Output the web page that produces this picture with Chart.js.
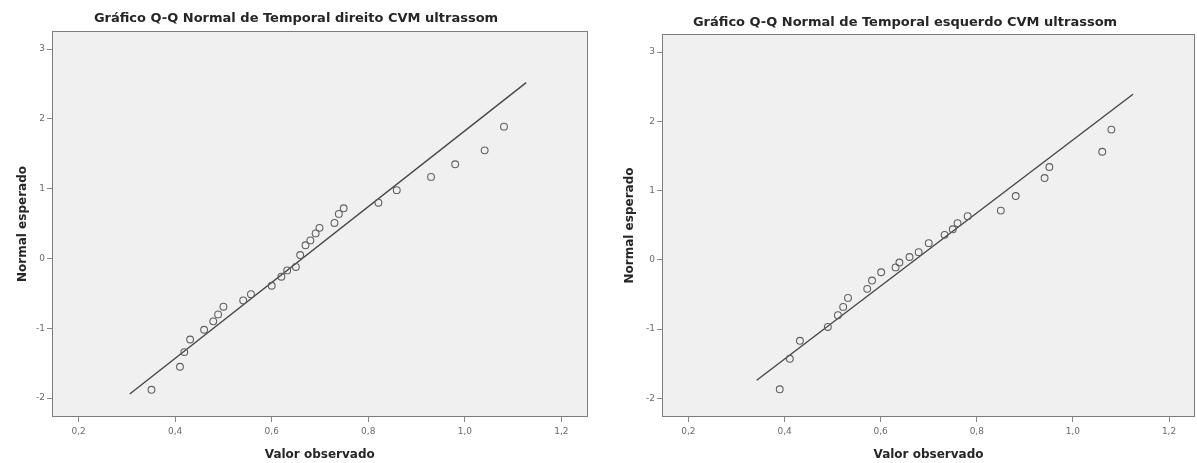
<!DOCTYPE html>
<html><head><meta charset="utf-8">
<script src="https://cdn.jsdelivr.net/npm/chart.js@4.4.0/dist/chart.umd.min.js"></script>
<style>
html,body{margin:0;padding:0;background:#fff;overflow:hidden;width:1197px;height:463px}
#c1{position:absolute;left:0;top:0}
#c2{position:absolute;left:600px;top:0}
</style></head><body>
<canvas id="c1" width="600" height="463"></canvas>
<canvas id="c2" width="597" height="463"></canvas>
<script>
// ---- text ----
const leftTitle = "Gráfico Q-Q Normal de Temporal direito CVM ultrassom";
const rightTitle = "Gráfico Q-Q Normal de Temporal esquerdo CVM ultrassom";
const xAxisTitle = "Valor observado";
const yAxisTitle = "Normal esperado";

// ---- ticks ----
const xTickValues = [0.2, 0.4, 0.6, 0.8, 1.0, 1.2];
const xTickLabels = ["0,2", "0,4", "0,6", "0,8", "1,0", "1,2"];
const yTickValues = [-2, -1, 0, 1, 2, 3];
const yTickLabels = ["-2", "-1", "0", "1", "2", "3"];

// ---- left chart: Temporal direito ----
const leftObserved = [0.351, 0.410, 0.419, 0.431, 0.460, 0.479, 0.489, 0.500, 0.541, 0.557,
  0.600, 0.620, 0.632, 0.650, 0.659, 0.670, 0.680, 0.691, 0.699, 0.730,
  0.739, 0.749, 0.821, 0.859, 0.930, 0.980, 1.041, 1.081];
const leftExpected = [-1.88, -1.55, -1.34, -1.16, -1.02, -0.90, -0.80, -0.69, -0.60, -0.51,
  -0.39, -0.26, -0.17, -0.12, 0.05, 0.19, 0.26, 0.36, 0.44, 0.51,
  0.64, 0.72, 0.80, 0.98, 1.17, 1.35, 1.55, 1.89];
const leftLineX = [0.306, 1.127];
const leftLineY = [-1.94, 2.52];

// ---- right chart: Temporal esquerdo ----
const rightObserved = [0.390, 0.411, 0.432, 0.490, 0.511, 0.522, 0.532, 0.572, 0.582, 0.601,
  0.631, 0.639, 0.660, 0.679, 0.700, 0.733, 0.750, 0.760, 0.781, 0.850,
  0.881, 0.941, 0.951, 1.061, 1.080];
const rightExpected = [-1.87, -1.43, -1.17, -0.97, -0.80, -0.68, -0.55, -0.42, -0.30, -0.18,
  -0.11, -0.04, 0.04, 0.11, 0.24, 0.36, 0.44, 0.53, 0.63, 0.71,
  0.92, 1.18, 1.34, 1.56, 1.88];
const rightLineX = [0.342, 1.125];
const rightLineY = [-1.74, 2.39];

const FONT = '"DejaVu Sans", "Liberation Sans", Arial, sans-serif';

const framePlugin = {
  id: 'frame',
  beforeDraw(chart, args, opts) {
    const {ctx, chartArea: a} = chart;
    ctx.save();
    ctx.fillStyle = '#f0f0f0';
    ctx.fillRect(a.left, a.top, a.right - a.left, a.bottom - a.top);
    ctx.restore();
  },
  beforeDatasetsDraw(chart, args, opts) {
    const {ctx, chartArea: a} = chart;
    ctx.save();
    ctx.strokeStyle = '#7c7c7c';
    ctx.lineWidth = 1;
    ctx.strokeRect(Math.round(a.left) + 0.5, Math.round(a.top) + 0.5,
      Math.round(a.right - a.left) - 1, Math.round(a.bottom - a.top) - 1);
    ctx.restore();
  },
  afterDraw(chart, args, opts) {
    const {ctx} = chart;
    ctx.save();
    ctx.fillStyle = '#262626';
    ctx.font = 'bold 13px ' + FONT;
    ctx.textAlign = 'center';
    ctx.textBaseline = 'middle';
    ctx.fillText(opts.text, opts.x, opts.y);
    ctx.restore();
  }
};

function makeChart(id, obs, exp, lx, ly, cfg) {
  const pts = obs.map((v, i) => ({x: v, y: exp[i]}));
  const line = lx.map((v, i) => ({x: v, y: ly[i]}));
  return new Chart(document.getElementById(id), {
    type: 'scatter',
    data: {
      datasets: [
        {
          data: line, showLine: true, borderColor: '#474747', borderWidth: 1.4,
          pointRadius: 0, pointHoverRadius: 0, order: 2
        },
        {
          data: pts, pointStyle: 'circle', pointRadius: 3.4, borderColor: '#606060',
          borderWidth: 1.1, backgroundColor: 'rgba(0,0,0,0)', order: 1
        }
      ]
    },
    options: {
      responsive: false, animation: false, events: [],
      layout: {autoPadding: false, padding: {top: cfg.top, right: cfg.right, left: 0, bottom: 0}},
      plugins: {
        legend: {display: false}, tooltip: {enabled: false},
        frame: {text: cfg.title, x: cfg.titleX, y: cfg.titleY}
      },
      scales: {
        x: {
          type: 'linear', min: 0.145, max: 1.254,
          afterFit: s => { s.height = 463 - cfg.bottom; s.paddingLeft = 0; s.paddingRight = 0; },
          afterBuildTicks: s => { s.ticks = xTickValues.map(v => ({value: v})); },
          ticks: {
            callback: (v) => { const i = xTickValues.findIndex(t => Math.abs(t - v) < 1e-6); return i >= 0 ? xTickLabels[i] : ''; },
            color: '#6a6a6a', font: {family: FONT, size: 9}, padding: 4, maxRotation: 0, autoSkip: false
          },
          grid: {drawOnChartArea: false, drawTicks: true, tickLength: 5, color: '#8a8a8a'},
          border: {display: false},
          title: {display: true, text: xAxisTitle, color: '#262626', font: {family: FONT, size: 12, weight: 'bold'}, padding: {top: 0, bottom: 1}}
        },
        y: {
          type: 'linear', min: -2.27, max: 3.26,
          afterFit: s => { s.width = cfg.yWidth; s.paddingTop = 0; s.paddingBottom = 0; },
          afterBuildTicks: s => { s.ticks = yTickValues.map(v => ({value: v})); },
          ticks: {
            callback: (v) => { const i = yTickValues.indexOf(Math.round(v)); return i >= 0 ? yTickLabels[i] : ''; },
            color: '#6a6a6a', font: {family: FONT, size: 9}, padding: 2
          },
          grid: {drawOnChartArea: false, drawTicks: true, tickLength: 5, color: '#8a8a8a'},
          border: {display: false},
          title: {display: true, text: yAxisTitle, color: '#262626', font: {family: FONT, size: 12, weight: 'bold'}, padding: {top: cfg.yTitlePad, bottom: 0}}
        }
      }
    },
    plugins: [framePlugin]
  });
}

makeChart('c1', leftObserved, leftExpected, leftLineX, leftLineY,
  {top: 31, right: 12.5, bottom: 417, yWidth: 52, yTitlePad: 15.5, title: leftTitle, titleX: 296, titleY: 19});
makeChart('c2', rightObserved, rightExpected, rightLineX, rightLineY,
  {top: 34, right: 2, bottom: 417, yWidth: 62, yTitlePad: 22.8, title: rightTitle, titleX: 305, titleY: 23});
</script>
</body></html>
